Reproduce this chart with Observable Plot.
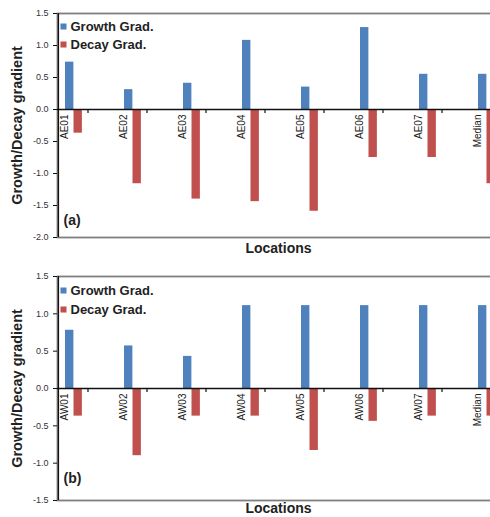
<!DOCTYPE html>
<html>
<head>
<meta charset="utf-8">
<script src="https://cdn.jsdelivr.net/npm/d3@7"></script>
<script src="https://cdn.jsdelivr.net/npm/@observablehq/plot@0.6"></script>
<style>
  html, body { margin: 0; padding: 0; background: #fff; overflow: hidden; }
  #wrap { width: 490px; height: 517px; overflow: hidden; }
  #wrap svg { display: block; max-width: none !important; height: auto; }
</style>
</head>
<body>
<div id="wrap"></div>
<script>
// ---- data ----
const seriesNames = ["Growth Grad.", "Decay Grad."];
const seriesColors = ["#4F81BD", "#C0504D"];

const catsA = ["AE01", "AE02", "AE03", "AE04", "AE05", "AE06", "AE07", "Median"];
const growthA = [0.74, 0.31, 0.41, 1.08, 0.35, 1.28, 0.55, 0.55];
const decayA = [-0.37, -1.16, -1.40, -1.44, -1.59, -0.75, -0.75, -1.16];
const yTicksA = [-2.0, -1.5, -1.0, -0.5, 0.0, 0.5, 1.0, 1.5];

const catsB = ["AW01", "AW02", "AW03", "AW04", "AW05", "AW06", "AW07", "Median"];
const growthB = [0.78, 0.57, 0.43, 1.11, 1.11, 1.11, 1.11, 1.11];
const decayB = [-0.37, -0.90, -0.37, -0.37, -0.83, -0.44, -0.37, -0.37];
const yTicksB = [-1.5, -1.0, -0.5, 0.0, 0.5, 1.0, 1.5];

const yTitle = "Growth/Decay gradient";
const xTitle = "Locations";

const FONT = "'Liberation Sans', Arial, Helvetica, sans-serif";

function panel({cats, growth, decay, ticks, tag, height, marginTop, marginBottom, tagDy, legendDy, xTitleDy}) {
  const growthRows = cats.map((c, i) => ({cat: c, value: growth[i]}));
  const decayRows = cats.map((c, i) => ({cat: c, value: decay[i]}));
  const left = 57;
  const bandRight = 530;
  const bw = (bandRight - left) / cats.length;
  const legendMarks = seriesNames.flatMap((s, i) => [
    Plot.dot([s], {
      frameAnchor: "top-left", dx: 6, dy: legendDy[i], symbol: "square", r: 3.4,
      fill: seriesColors[i], stroke: "none"
    }),
    Plot.text([s], {
      frameAnchor: "top-left", dx: 13, dy: legendDy[i], text: d => d, textAnchor: "start",
      lineAnchor: "middle", fontSize: 13, fontWeight: "bold", fill: "#222"
    })
  ]);
  return Plot.plot({
    width: 505,
    height,
    marginLeft: left,
    marginRight: 6,
    marginTop,
    marginBottom,
    style: {fontFamily: FONT, fontSize: "9px", background: "#fff", overflow: "hidden"},
    x: {type: "band", domain: cats, range: [left, bandRight], padding: 0, axis: null},
    y: {domain: [ticks[0], ticks[ticks.length - 1]], axis: null},
    marks: [
      Plot.frame({stroke: "#7f7f7f", strokeWidth: 1.8}),
      Plot.barY(growthRows, {x: "cat", y: "value", fill: seriesColors[0], insetLeft: 7, insetRight: bw - 15.5}),
      Plot.barY(decayRows, {x: "cat", y: "value", fill: seriesColors[1], insetLeft: 15.5, insetRight: bw - 24}),
      Plot.ruleY([0], {stroke: "#111", strokeWidth: 1.4}),
      Plot.ruleX(cats, {x: d => d, y1: () => 0, y2: () => 0, insetBottom: -4, stroke: "#111", strokeWidth: 1.2}),
      Plot.ruleX([cats[0]], {x: d => d, dx: -bw / 2, stroke: "#111", strokeWidth: 1.3}),
      Plot.axisY(ticks, {
        anchor: "left", tickSize: 4, tickPadding: 5, fontSize: 9, fill: "#333", stroke: "#111",
        tickFormat: d => d.toFixed(1), label: null
      }),
      Plot.text(cats, {
        x: d => d, y: () => 0, text: d => d, rotate: -90, textAnchor: "end",
        dx: -23.6, dy: 5, fontSize: 10, fill: "#222"
      }),
      ...legendMarks,
      // panel tag
      Plot.text([tag], {
        frameAnchor: "bottom-left", dx: 6, dy: tagDy, text: d => d, textAnchor: "start",
        lineAnchor: "middle", fontSize: 14, fontWeight: "bold", fill: "#222"
      }),
      // y title
      Plot.text([yTitle], {
        frameAnchor: "left", dx: -40, text: d => d, rotate: -90, textAnchor: "middle",
        lineAnchor: "middle", fontSize: 14.5, fontWeight: "bold", fill: "#222"
      }),
      // x title
      Plot.text([xTitle], {
        frameAnchor: "bottom", dy: xTitleDy, text: d => d, lineAnchor: "middle",
        fontSize: 14, fontWeight: "bold", fill: "#222"
      })
    ]
  });
}

const wrap = document.getElementById("wrap");
wrap.appendChild(panel({
  cats: catsA, growth: growthA, decay: decayA, ticks: yTicksA, tag: "(a)",
  height: 258, marginTop: 13, marginBottom: 21, tagDy: -17, legendDy: [13, 31], xTitleDy: 11
}));
wrap.appendChild(panel({
  cats: catsB, growth: growthB, decay: decayB, ticks: yTicksB, tag: "(b)",
  height: 259, marginTop: 18, marginBottom: 17, tagDy: -22, legendDy: [14, 33], xTitleDy: 8.5
}));
</script>
</body>
</html>
